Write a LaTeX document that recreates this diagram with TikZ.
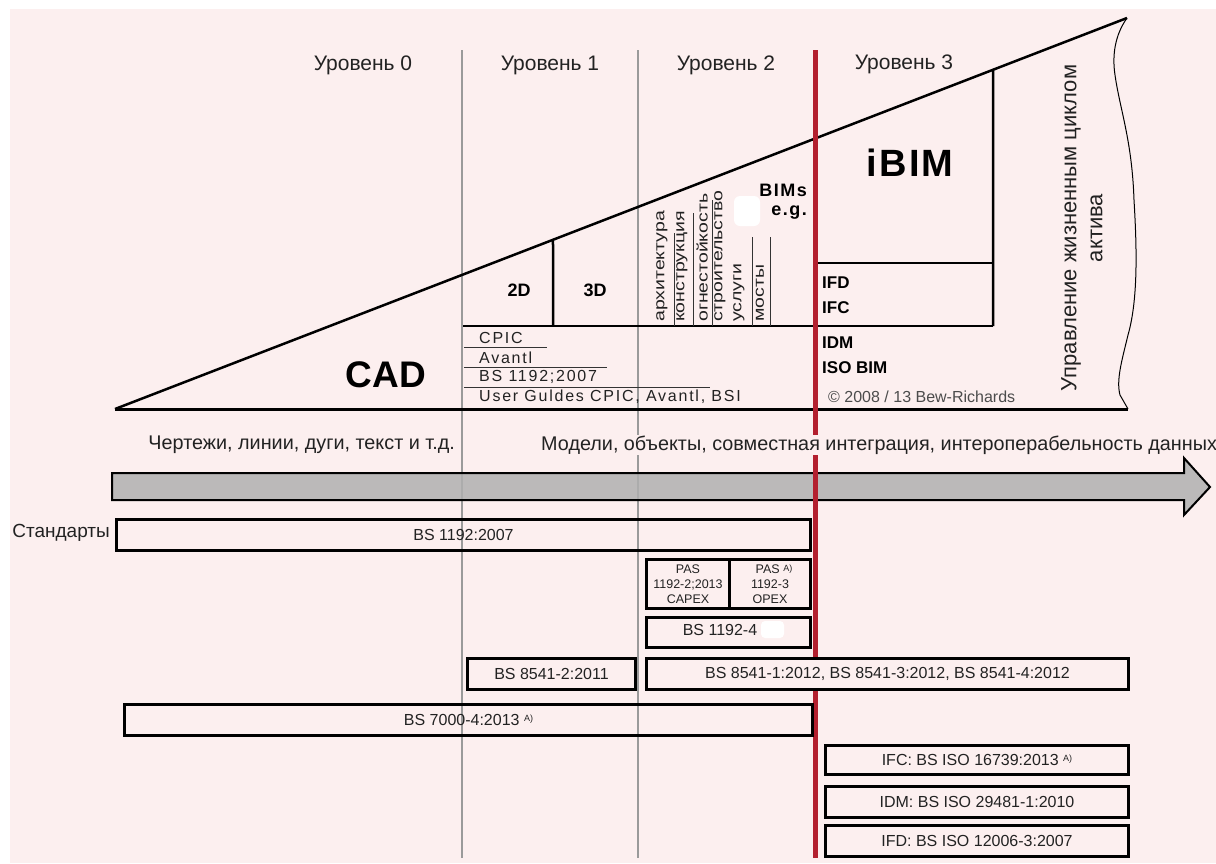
\documentclass[tikz,border=0pt]{standalone}
\usepackage{fontspec}
\setmainfont{Liberation Sans}
\usetikzlibrary{calc}
\definecolor{bg}{HTML}{FCEFEF}
\definecolor{redline}{HTML}{B3202F}
\definecolor{grayline}{HTML}{9A9A9A}
\definecolor{arrowfill}{HTML}{B0B0B0}
\definecolor{txt}{HTML}{222222}
\newcommand{\fs}[1]{\fontsize{#1}{#1}\selectfont}
\begin{document}
\begin{tikzpicture}[x=1pt,y=-1pt,
  lvl/.style={font=\fs{21}, text=txt, inner sep=0},
  tri/.style={line width=2.5pt, black},
  sbox/.style={draw=black, line width=3pt, inner sep=0, anchor=north west, font=\fs{16}, text=txt},
  rot/.style={rotate=90, anchor=west, inner sep=0, font=\fs{15}, text=txt},
  bold/.style={font=\bfseries\fs{17}, text=black, inner sep=0},
  lst/.style={anchor=west, inner sep=0, font=\fs{16}\addfontfeature{LetterSpace=11}, text=txt},
  thin/.style={line width=1pt, black!80},
  above arrow/.style={font=\fs{19.8}, text=txt, inner sep=1pt}
]
\useasboundingbox (0,0) rectangle (1216,863);
\fill[bg] (10,9) rectangle (1216,863);

% level lines (gray)
\coordinate (g1t) at (462,50); \coordinate (g1b) at (462,858);
\coordinate (g2t) at (638,50); \coordinate (g2b) at (638,858);
\coordinate (rt) at (815,50); \coordinate (rb) at (815,858);
\draw[grayline, line width=2.5pt] (g1t) -- (g1b);
\draw[grayline, line width=2.5pt] (g2t) -- (g2b);

% triangle
\coordinate (A) at (115,409);
\coordinate (B) at (1128,409);
\coordinate (C) at (1127,18);
\draw[tri] (A) -- (C);
\draw[line width=3pt] (A) -- (B);
\draw[line width=1pt] (C) .. controls (1115,35) and (1112,55) .. (1115,75)
  .. controls (1120,110) and (1132,140) .. (1134,200)
  .. controls (1137,250) and (1138,300) .. (1128,335)
  .. controls (1122,360) and (1116,380) .. (1120,395) -- (B);

% inner structure
\coordinate (h1) at (463,326); \coordinate (h2) at (993,326);
\draw[tri] (h1) -- (h2);
\coordinate (d23) at (553,326);
\draw[tri] (d23) -- ($(A)!0.4328!(C)$);
\coordinate (rbox) at (993,326);
\draw[tri] (rbox) -- ($(A)!0.8676!(C)$);
\coordinate (m1) at (815,263); \coordinate (m2) at (993,263);
\draw[tri] (m1) -- (m2);

% level labels
\node[lvl] (l0) at (363,65) {Уровень 0};
\node[lvl] (l1) at (550,65) {Уровень 1};
\node[lvl] (l2) at (726,65) {Уровень 2};
\node[lvl] (l3) at (904,64) {Уровень 3};

% CAD / 2D / 3D
\node[font=\bfseries\fs{37}, inner sep=0] (cad) at (386,375) {CAD};
\node[bold, font=\bfseries\fs{18}] (d2) at (519,290) {2D};
\node[bold, font=\bfseries\fs{18}] (d3) at (595,290) {3D};

% rotated disciplines
\node[rot] (r1) at (662,322) {\scalebox{1.3}[1]{архитектура}};
\node[rot] (r2) at (682,322) {\scalebox{1.3}[1]{конструкция}};
\node[rot] (r3) at (702,322) {\scalebox{1.3}[1]{огнестойкость}};
\node[rot] (r4) at (720,322) {\scalebox{1.3}[1]{строительство}};
\node[rot] (r5) at (739,322) {\scalebox{1.3}[1]{услуги}};
\node[rot] (r6) at (760,322) {\scalebox{1.3}[1]{мосты}};
\draw[thin] (674,233) -- (674,326);
\draw[thin] (693,213) -- (693,326);
\draw[thin] (712,200) -- (712,326);
\draw[thin] (752,237) -- (752,326);
\draw[thin] (770,237) -- (770,326);

% BIMs e.g.
\fill[white, rounded corners=6pt] (734,196) rectangle (760,226);
\node[bold, font=\bfseries\fs{18}, anchor=east] (bims) at (807,190) {\addfontfeature{LetterSpace=8}BIMs};
\node[bold, font=\bfseries\fs{18}, anchor=east] (eg) at (807,213) {\addfontfeature{LetterSpace=8}e.g.};

% iBIM block
\node[font=\bfseries\fs{38}, inner sep=0] (ibim) at (910,163) {\addfontfeature{LetterSpace=6}iBIM};
\node[bold, anchor=west] (ifd) at (822,283) {IFD};
\node[bold, anchor=west] (ifc) at (822,308) {IFC};
\node[bold, anchor=west] (idm) at (822,343) {IDM};
\node[bold, anchor=west] (isobim) at (822,368) {ISO BIM};
\node[anchor=west, inner sep=0, font=\fs{16}, text=black!70] (copy) at (828,397) {© 2008 / 13 Bew-Richards};

% lifecycle
\node[rotate=90, align=center, font=\fs{22}, text=txt, inner sep=0] (life) at (1082,228) {Управление жизненным циклом\\[4pt]актива};

% CPIC list
\node[lst] (c1) at (479,338) {CPIC};
\node[lst] (c2) at (479,358) {Avantl};
\node[lst] (c3) at (479,377) {BS 1192;2007};
\node[lst] (c4) at (479,397) {User Guldes CPIC, Avantl, BSI};
\coordinate (u1a) at (464,347); \coordinate (u1b) at (547,347);
\coordinate (u2a) at (464,367); \coordinate (u2b) at (607,367);
\coordinate (u3a) at (464,387); \coordinate (u3b) at (710,387);
\draw[thin] (u1a) -- (u1b);
\draw[thin] (u2a) -- (u2b);
\draw[thin] (u3a) -- (u3b);

% big arrow
\draw[fill=arrowfill, fill opacity=0.85, line width=2pt, line join=miter]
  (112,473) -- (1184,473) -- (1184,458) -- (1210,487) -- (1184,515) -- (1184,500) -- (112,500) -- cycle;

% red line
\draw[redline, line width=5pt] (rt) -- (rb);

% texts above arrow
\node[above arrow, anchor=east] (draw) at (456,445) {Чертежи, линии, дуги, текст и т.д.};
\node[above arrow, anchor=west, fill=bg] (models) at (540,445) {Модели, объекты, совместная интеграция, интероперабельность данных};

% standards
\node[anchor=east, inner sep=0, font=\fs{19}, text=txt] (std) at (110,533) {Стандарты};
\node[sbox, minimum width=694pt, minimum height=31pt] (bs1192) at (115,518) {};
\node[font=\fs{16}, text=txt, inner sep=0] at (bs1192.center) {BS 1192:2007};

\node[sbox, minimum width=83pt, minimum height=49pt, align=center, font=\fs{12.5}] (pas2) at (645,558) {PAS\\[2.5pt]1192-2;2013\\[2.5pt]CAPEX};
\node[sbox, minimum width=81pt, minimum height=49pt, align=center, font=\fs{12.5}] (pas3) at (728,558) {\hspace*{8pt}PAS \raisebox{2pt}{\fs{9}A)}\\[2.5pt]1192-3\\[2.5pt]OPEX};

\node[sbox, minimum width=164pt, minimum height=30pt] (bs11924) at (645,616) {};
\node[font=\fs{16}, text=txt, inner sep=0] at (720,630) {BS 1192-4};
\fill[white, rounded corners=4pt] (761,621) rectangle (784,638);

\node[sbox, minimum width=168pt, minimum height=31pt] (bs85412) at (466,657) {BS 8541-2:2011};
\node[sbox, fill=bg, minimum width=482pt, minimum height=31pt] (bs85411) at (645,657) {BS 8541-1:2012, BS 8541-3:2012, BS 8541-4:2012};

\node[sbox, minimum width=688pt, minimum height=31pt] (bs7000) at (123,703) {};
\node[font=\fs{16}, text=txt, inner sep=0] at (bs7000.center) {BS 7000-4:2013 \raisebox{4pt}{\fs{9}A)}};

\node[sbox, fill=bg, minimum width=303pt, minimum height=29pt] (ifcb) at (824,744) {IFC: BS ISO 16739:2013 \raisebox{4pt}{\fs{9}A)}};
\node[sbox, fill=bg, minimum width=303pt, minimum height=31pt] (idmb) at (824,785) {IDM: BS ISO 29481-1:2010};
\node[sbox, fill=bg, minimum width=303pt, minimum height=31pt] (ifdb) at (824,824) {IFD: BS ISO 12006-3:2007};
\end{tikzpicture}
\end{document}
